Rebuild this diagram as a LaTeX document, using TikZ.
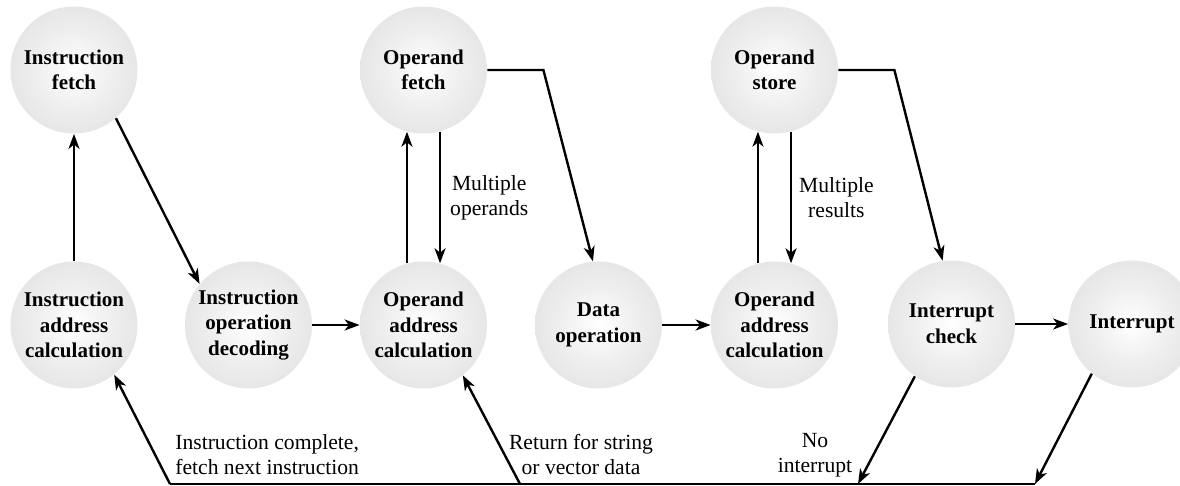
\documentclass[tikz,border=0pt]{standalone}
\usepackage{fontspec}
\setmainfont{Liberation Serif}
\usetikzlibrary{arrows.meta}

\pgfdeclareradialshading{ballshade}{\pgfpoint{0bp}{0bp}}{color(0bp)=(white); color(14bp)=(white!94!black); color(50bp)=(black!18)}

\tikzset{
	cyclestate/.style={circle, minimum size=63.5pt, inner sep=0pt, shading=ballshade, align=center, font=\bfseries\fontsize{10.5}{12.8}\selectfont},
	flow/.style={line width=1.2pt, -{Stealth[length=7.5pt,width=5.5pt,inset=2.2pt]}},
	bus/.style={line width=1.2pt},
	remark/.style={align=center, inner sep=0pt, font=\fontsize{10.8}{12.5}\selectfont}
}

\begin{document}
\begin{tikzpicture}[x=0.5pt, y=-0.5pt]
	\useasboundingbox (0,0) rectangle (1180,486);

	% top row
	\node[cyclestate] (ifetch) at (74,70) {Instruction\\fetch};
	\node[cyclestate] (ofetch) at (423.5,70) {Operand\\fetch};
	\node[cyclestate] (ostore) at (774.5,70) {Operand\\store};

	% bottom row
	\node[cyclestate] (iaddr) at (74,325) {Instruction\\address\\calculation};
	\node[cyclestate] (idecode) at (248.5,325) {Instruction\\operation\\decoding};
	\node[cyclestate] (oaddra) at (423.5,325) {Operand\\address\\calculation};
	\node[cyclestate] (dataop) at (598.5,325) {Data\\operation};
	\node[cyclestate] (oaddrb) at (774.5,325) {Operand\\address\\calculation};
	\node[cyclestate] (icheck) at (951.5,324) {Interrupt\\check};
	\node[cyclestate] (intr) at (1132,324) {Interrupt};

	% return bus
	\coordinate (busl) at (170,484);
	\coordinate (busr) at (1035,484);
	\coordinate (busn) at (858,484);
	\coordinate (busv) at (520,484);

	\draw[flow] (iaddr) -- (ifetch);
	\draw[flow] (ifetch.-49) -- (idecode.140);
	\draw[flow] (idecode) -- (oaddra);
	\draw[flow] (oaddra.105) -- (ofetch.255);
	\draw[flow] (ofetch.285) -- node[remark, anchor=west, xshift=4.5pt] (mopnd) {Multiple\\operands} (oaddra.75);
	\draw[flow] (ofetch.east) -- ++(56,0) -- (dataop.95);
	\draw[flow] (dataop) -- (oaddrb);
	\draw[flow] (oaddrb.105) -- (ostore.255);
	\draw[flow] (ostore.285) -- node[remark, anchor=west, xshift=3.5pt] (mres) {Multiple\\results} (oaddrb.75);
	\draw[flow] (ostore.east) -- ++(56,0) -- (icheck.98);
	\draw[flow] (icheck) -- (intr);

	\draw[flow] (icheck.235) -- (busn);
	\draw[flow] (intr.231) -- (busr);
	\draw[bus] (busr) -- (busl);
	\draw[flow] (busl) -- (iaddr.-51);
	\draw[flow] (busv) -- (oaddra.-52);

	\node[remark, align=left, anchor=west] (donelbl) at (175,455) {Instruction complete,\\fetch next instruction};
	\node[remark] (retlbl) at (581,455) {Return for string\\or vector data};
	\node[remark] (nointlbl) at (815,455) {No\\interrupt};
\end{tikzpicture}
\end{document}
